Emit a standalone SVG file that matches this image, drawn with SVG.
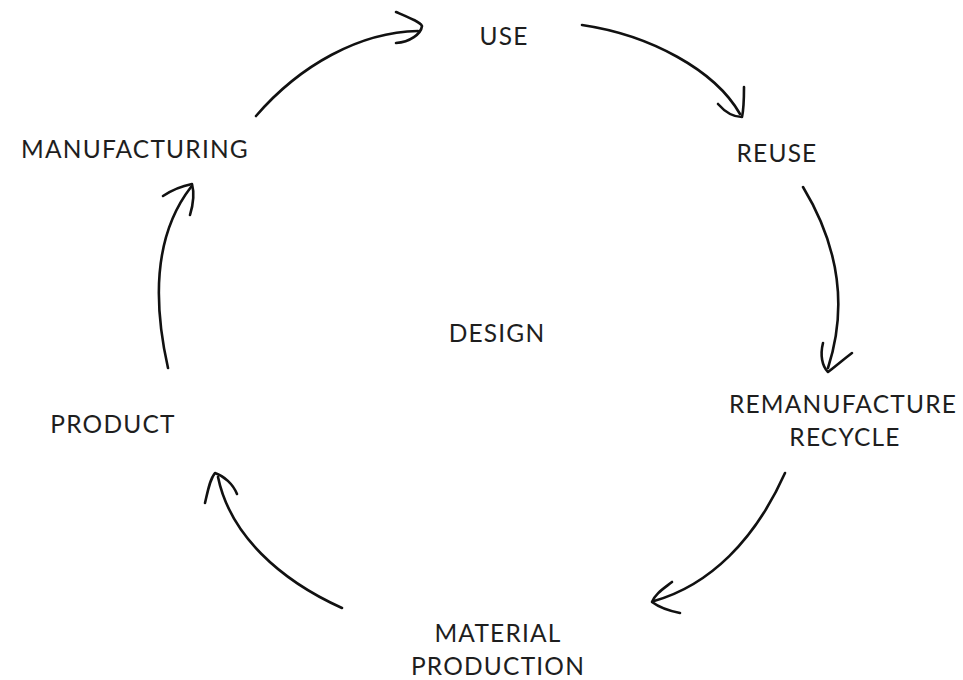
<svg xmlns="http://www.w3.org/2000/svg" width="963" height="680" viewBox="0 0 963 680">
<style>
.t{font-family:Lato,"Noto Sans","Liberation Sans",sans-serif;font-size:24.5px;font-weight:400;letter-spacing:1.2px;fill:#1e1e1e;text-anchor:middle;}
.c{fill:none;stroke:#111;stroke-width:2.6;stroke-linecap:round;stroke-linejoin:round;}
</style>
<rect width="963" height="680" fill="#fff"/>
<g id="use"><text class="t" x="504" y="45">USE</text></g>
<g id="reuse"><text class="t" x="777" y="162">REUSE</text></g>
<g id="remanufacture"><text class="t" x="843" y="413">REMANUFACTURE</text><text class="t" x="845" y="446">RECYCLE</text></g>
<g id="material"><text class="t" x="498" y="642">MATERIAL</text><text class="t" x="498" y="675">PRODUCTION</text></g>
<g id="product"><text class="t" x="113" y="433">PRODUCT</text></g>
<g id="manufacturing"><text class="t" x="135" y="158">MANUFACTURING</text></g>
<g id="design"><text class="t" x="497" y="342">DESIGN</text></g>
<g id="connectors">
<path class="c" d="M256 116 C300 65 360 32 418 31"/>
<path class="c" d="M396 12 C410 18 420 22 422 26 C421 34 410 42 396 43"/>
<path class="c" d="M582 25 C650 35 715 70 740 114"/>
<path class="c" d="M718 104 C725 112 732 117 742 117 C744 108 744 97 744 87"/>
<path class="c" d="M803 187 C835 240 850 300 828 368"/>
<path class="c" d="M823 343 C820 355 822 366 828 372 C836 366 844 359 852 353"/>
<path class="c" d="M785 473 C755 540 710 585 654 601"/>
<path class="c" d="M672 582 C663 589 655 594 652 602 C660 608 670 611 680 613"/>
<path class="c" d="M342 608 C280 580 230 535 218 477"/>
<path class="c" d="M205 503 C208 490 210 479 215 473 C224 476 233 484 237 494"/>
<path class="c" d="M168 368 C155 310 150 240 191 187"/>
<path class="c" d="M163 196 C172 190 182 186 192 184 C195 195 193 205 190 215"/>
</g>
</svg>
